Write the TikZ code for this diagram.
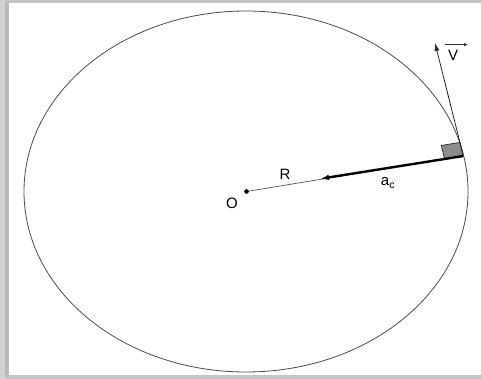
\documentclass[tikz,border=0pt]{standalone}
\usepackage{fontspec}
\setmainfont{Liberation Sans}
\usetikzlibrary{arrows.meta,calc}
\definecolor{frameA}{HTML}{D2D2D2}
\definecolor{frameB}{HTML}{B9B9B9}
\definecolor{frameC}{HTML}{C4C4C4}
\tikzset{
  lbl/.style={inner sep=0pt, font=\fontsize{15}{17}\selectfont},
  orbit/.style={draw=black!70, line width=0.8pt},
  radius line/.style={draw=black!65, line width=0.7pt},
  accel/.style={draw=black, line width=2.4pt, -{Latex[length=9pt,width=5.5pt]}},
  vel/.style={draw=black!85, line width=0.8pt, -{Latex[length=8pt,width=5pt]}},
  vecbar/.style={draw=black!80, line width=0.9pt, -{Latex[length=4pt,width=3.5pt]}},
  rightbox/.style={draw=black!85, line width=0.7pt, fill=black!45}
}
\begin{document}
\begin{tikzpicture}[x=1pt,y=-1pt]
\useasboundingbox (0,0) rectangle (481,379);
% frame
\fill[white] (0,0) rectangle (481,379);
\fill[frameA] (0,0) rectangle (4.5,379);
\fill[frameB] (4.5,3) rectangle (9,375);
\fill[frameC] (4.5,0) rectangle (481,3);
\fill[frameC] (4.5,375) rectangle (481,379);
% geometry
\coordinate (O) at (246.5,191.5);
\coordinate (P) at (463.3,156);
\coordinate (A) at (320,178.8);
\coordinate (T) at (435,43);
% orbit
\draw[orbit] (246,191.5) ellipse [x radius=222pt, y radius=180.5pt];
% right-angle marker
\filldraw[rightbox] (P) -- ++(-18.7,3.1) -- ++(-3.3,-13.6) -- ++(18.7,-3.1) -- cycle;
% radius and acceleration
\draw[radius line] (O) -- (P);
\draw[accel] (P) -- (A);
\fill (O) circle (2.3pt);
% velocity
\draw[vel] (P) -- (T);
% labels
\node[lbl] (o) at (232,203) {O};
\node[lbl] (r) at (285,174) {R};
\node[lbl] (ac) at (388,183) {a\textsubscript{c}};
\node[lbl] (v) at (453,55) {V};
\draw[vecbar] ([xshift=-8pt,yshift=5pt]v.north) -- ([xshift=15pt,yshift=5pt]v.north);
\end{tikzpicture}
\end{document}
